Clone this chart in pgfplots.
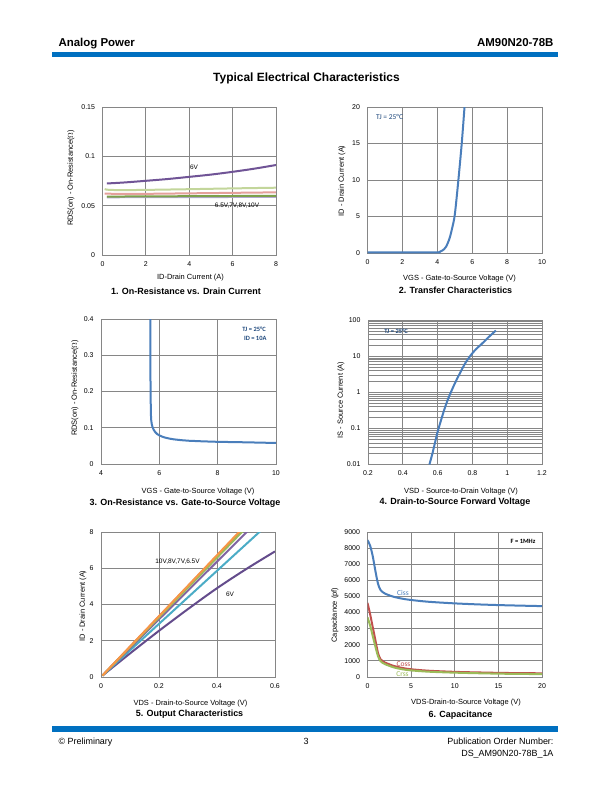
\documentclass[border=0pt]{standalone}
\usepackage{fontspec}
\setmainfont{Liberation Sans}
\newfontfamily\calib{Carlito}
\usepackage{pgfplots}
\pgfplotsset{compat=1.18}
\newcommand\fs[1]{\fontsize{#1}{#1}\selectfont}
\definecolor{gridgray}{RGB}{134,134,134}
\definecolor{hdrblue}{RGB}{0,112,192}
\definecolor{cblue}{RGB}{74,126,187}
\definecolor{navy}{RGB}{31,73,125}
\definecolor{ppurple}{RGB}{112,84,150}
\definecolor{plgreen}{RGB}{195,214,155}
\definecolor{ppink}{RGB}{228,160,155}
\definecolor{pgreen}{RGB}{125,160,75}
\definecolor{plav}{RGB}{178,168,210}
\definecolor{porange}{RGB}{247,150,70}
\definecolor{pgreen2}{RGB}{155,187,89}
\definecolor{ppurple2}{RGB}{128,100,162}
\definecolor{pcyan}{RGB}{75,172,198}
\definecolor{pdpurple}{RGB}{100,76,140}
\definecolor{cred}{RGB}{192,80,77}
\pgfplotsset{ds/.style={scale only axis,
  axis line style={draw=gridgray,line width=0.9bp},
  grid=major, major grid style={draw=gridgray,line width=0.9bp},
  major tick length=0pt, minor tick length=0pt,
  tick label style={font=\fs{7}},
  xticklabel style={yshift=-3bp},
  yticklabel style={xshift=-4bp},
  every axis plot/.append style={line width=2bp,no markers},
}}
\begin{document}
\begin{tikzpicture}
\fill[white] (0bp,0bp) rectangle (612bp,-792bp);
% header
\node[anchor=base west,font=\bfseries\fs{11.5}] at (55bp,-46.5bp) {Analog Power};
\node[anchor=base east,font=\bfseries\fs{11.5}] at (557bp,-46.5bp) {AM90N20-78B};
\fill[hdrblue] (52bp,-52bp) rectangle (558bp,-57bp);
\node[anchor=base,font=\bfseries\fs{12}] at (306.5bp,-81bp) {Typical Electrical Characteristics};
% footer
\fill[hdrblue] (52bp,-726bp) rectangle (558bp,-731.5bp);
\node[anchor=base west,font=\fs{9}] at (55bp,-744bp) {\textcopyright{} Preliminary};
\node[anchor=base,font=\fs{9}] at (306bp,-744bp) {3};
\node[anchor=base east,font=\fs{9}] at (557bp,-744bp) {Publication Order Number:};
\node[anchor=base east,font=\fs{9}] at (557bp,-756bp) {DS\_AM90N20-78B\_1A};

% ---------- Plot 1
\begin{axis}[ds, at={(102.5bp,-255bp)}, anchor=south west, width=173.5bp, height=148bp,
  xmin=0,xmax=8,ymin=0,ymax=0.15, xtick={0,2,4,6,8}, xticklabels={0,2,4,6,8},
  ytick={0,0.05,0.1,0.15}, yticklabels={0,0.05,0.1,0.15}]
\addplot[plav,smooth] coordinates {(0.2,0.0585)(2,0.0586)(4,0.0587)(6,0.0588)(8,0.0590)};
\addplot[pgreen,smooth] coordinates {(0.2,0.0592)(2,0.0594)(4,0.0596)(6,0.0598)(8,0.0600)};
\addplot[ppink,smooth] coordinates {(0.1,0.0622)(1,0.0619)(2,0.0620)(4,0.0625)(6,0.0630)(8,0.0635)};
\addplot[plgreen,smooth] coordinates {(0.1,0.0668)(0.3,0.0660)(1,0.0658)(2,0.0660)(4,0.0667)(6,0.0675)(8,0.0682)};
\addplot[ppurple,smooth] coordinates {(0.2,0.0725)(1,0.0735)(2,0.0752)(3,0.0770)(4,0.0792)(5,0.0815)(6,0.0843)(7,0.0875)(8,0.0912)};
\end{axis}
\node[font=\fs{6.5}] at (194bp,-167.5bp) {6V};
\node[font=\fs{6.5}] at (237bp,-206bp) {6.5V,7V,8V,10V};
\node[font=\fs{7.5}] at (190.5bp,-278bp) {ID-Drain Current (A)};
\node[font=\bfseries\fs{9}] at (186bp,-291.5bp) {1. On-Resistance vs. Drain Current};
\node[font=\fs{7.5},rotate=90] at (71bp,-178bp) {RDS(on) - On-Resistance($\Omega$)};

% ---------- Plot 2
\begin{axis}[ds, at={(367.5bp,-253bp)}, anchor=south west, width=174.5bp, height=146bp,
  xmin=0,xmax=10,ymin=0,ymax=20, xtick={0,2,4,6,8,10}, xticklabels={0,2,4,6,8,10},
  ytick={0,5,10,15,20}, yticklabels={0,5,10,15,20}]
\addplot[cblue,smooth] coordinates {(0,0.08)(3.9,0.08)(4.1,0.12)(4.3,0.35)(4.5,0.85)(4.7,2.0)(4.85,3.4)(5.0,5.2)(5.2,9.8)(5.4,15)(5.56,20)(5.6,21.2)};
\end{axis}
\node[font=\calib\fs{7.5},text=navy] at (389.5bp,-116.5bp) {TJ = 25°C};
\node[font=\fs{7.5}] at (459.5bp,-279bp) {VGS - Gate-to-Source Voltage (V)};
\node[font=\bfseries\fs{9}] at (455.5bp,-290.5bp) {2. Transfer Characteristics};
\node[font=\fs{7.5},rotate=90] at (342bp,-181bp) {ID - Drain Current (A)};

% ---------- Plot 3
\begin{axis}[ds, at={(101bp,-464bp)}, anchor=south west, width=175bp, height=145bp,
  xmin=4,xmax=10,ymin=0,ymax=0.4, xtick={4,6,8,10}, xticklabels={4,6,8,10},
  ytick={0,0.1,0.2,0.3,0.4}, yticklabels={0,0.1,0.2,0.3,0.4}]
\addplot[cblue] coordinates {(5.69,0.42)(5.69,0.30)(5.70,0.20)(5.71,0.14)(5.72,0.122)(5.74,0.110)(5.77,0.101)(5.81,0.094)(5.86,0.088)(5.92,0.083)(6.0,0.079)(6.1,0.0755)(6.2,0.0728)(6.35,0.0700)(6.5,0.0680)(6.75,0.0658)(7.0,0.0642)(7.5,0.0625)(8.0,0.0612)(9.0,0.0598)(10,0.0580)};
\end{axis}
\node[font=\calib\bfseries\fs{6.5},text=navy] at (254bp,-329bp) {TJ = 25°C};
\node[font=\calib\bfseries\fs{6.5},text=navy,anchor=west] at (240.5bp,-338.5bp) {ID = 10A};
\node[font=\fs{7.5}] at (198bp,-491.5bp) {VGS - Gate-to-Source Voltage (V)};
\node[font=\bfseries\fs{9}] at (185bp,-503.5bp) {3. On-Resistance vs. Gate-to-Source Voltage};
\node[font=\fs{7.5},rotate=90] at (75bp,-388bp) {RDS(on) - On-Resistance($\Omega$)};

% ---------- Plot 4
\begin{axis}[ds, at={(368bp,-464.5bp)}, anchor=south west, width=174bp, height=144.5bp,
  ymode=log, xmin=0.2,xmax=1.2,ymin=0.01,ymax=100,
  xtick={0.2,0.4,0.6,0.8,1,1.2}, xticklabels={0.2,0.4,0.6,0.8,1,1.2},
  ytick={0.01,0.1,1,10,100}, yticklabels={0.01,0.1,1,10,100},
  minor ytick={0.02,0.03,0.04,0.05,0.06,0.07,0.08,0.09,0.2,0.3,0.4,0.5,0.6,0.7,0.8,0.9,2,3,4,5,6,7,8,9,20,30,40,50,60,70,80,90},
  yminorgrids=true, minor grid style={draw=gridgray,line width=0.5bp}]
\addplot[cblue,smooth] coordinates {(0.553,0.01)(0.57,0.02)(0.585,0.04)(0.6,0.08)(0.62,0.17)(0.64,0.35)(0.66,0.65)(0.68,1.1)(0.70,1.8)(0.73,3.5)(0.76,6.5)(0.79,10.5)(0.82,15.5)(0.85,21)(0.88,29)(0.91,40)(0.935,51)};
\end{axis}
\node[font=\calib\bfseries\fs{6.5},text=navy] at (396bp,-331.5bp) {TJ = 25°C};
\node[font=\fs{7.5}] at (461bp,-492bp) {VSD - Source-to-Drain Voltage (V)};
\node[font=\bfseries\fs{9}] at (455bp,-502.5bp) {4. Drain-to-Source Forward Voltage};
\node[font=\fs{7.5},rotate=90] at (341bp,-400bp) {IS - Source Current (A)};

% ---------- Plot 5
\begin{axis}[ds, at={(101bp,-677bp)}, anchor=south west, width=174bp, height=145bp,
  xmin=0,xmax=0.6,ymin=0,ymax=8, xtick={0,0.2,0.4,0.6}, xticklabels={0,0.2,0.4,0.6},
  ytick={0,2,4,6,8}, yticklabels={0,2,4,6,8}]
\addplot[pdpurple,smooth] coordinates {(0.005,0.08)(0.1,1.3)(0.2,2.55)(0.3,3.75)(0.4,4.9)(0.5,5.95)(0.6,6.93)};
\addplot[pcyan] coordinates {(0.005,0.08)(0.553,8.1)};
\addplot[ppurple2] coordinates {(0.005,0.08)(0.509,8.1)};
\addplot[cred] coordinates {(0.005,0.08)(0.485,8.1)};
\addplot[pgreen2] coordinates {(0.005,0.08)(0.492,8.1)};
\addplot[porange] coordinates {(0.005,0.08)(0.482,8.1)};
\end{axis}
\node[font=\fs{6.5}] at (177.5bp,-561.5bp) {10V,8V,7V,6.5V};
\node[font=\fs{6.5}] at (230bp,-594.5bp) {6V};
\node[font=\fs{7.5}] at (190.5bp,-703.5bp) {VDS - Drain-to-Source Voltage (V)};
\node[font=\bfseries\fs{9}] at (189.5bp,-714bp) {5. Output Characteristics};
\node[font=\fs{7.5},rotate=90] at (83bp,-606bp) {ID - Drain Current (A)};

% ---------- Plot 6
\begin{axis}[ds, at={(367.5bp,-677bp)}, anchor=south west, width=174.5bp, height=145bp,
  xmin=0,xmax=20,ymin=0,ymax=9000, xtick={0,5,10,15,20}, xticklabels={0,5,10,15,20},
  ytick={0,1000,2000,3000,4000,5000,6000,7000,8000,9000},
  yticklabels={0,1000,2000,3000,4000,5000,6000,7000,8000,9000}]
\addplot[cblue,smooth] coordinates {(0,8500)(0.3,8150)(0.6,7500)(0.9,6600)(1.2,5800)(1.5,5400)(2,5180)(3,4980)(4,4860)(5,4780)(7,4670)(10,4570)(13,4500)(16,4450)(20,4400)};
\addplot[cred,smooth] coordinates {(0,4600)(0.3,3900)(0.6,3100)(0.9,2300)(1.2,1500)(1.5,1100)(2,900)(3,690)(4,560)(5,480)(7,390)(10,320)(13,280)(16,250)(20,230)};
\addplot[pgreen2,smooth] coordinates {(0,3700)(0.3,3200)(0.6,2550)(0.9,1900)(1.2,1300)(1.5,980)(2,800)(3,600)(4,480)(5,410)(7,330)(10,270)(13,230)(16,200)(20,180)};
\end{axis}
\node[font=\calib\fs{7.5},text=cblue] at (403bp,-592.5bp) {Ciss};
\node[font=\calib\fs{7.5},text=cred] at (403.5bp,-664bp) {Coss};
\node[font=\calib\fs{7.5},text=pgreen2] at (402.5bp,-674.5bp) {Crss};
\node[font=\calib\bfseries\fs{6.5}] at (523bp,-541bp) {F = 1MHz};
\node[font=\fs{7.5}] at (466bp,-703bp) {VDS-Drain-to-Source Voltage (V)};
\node[font=\bfseries\fs{9}] at (460.5bp,-715bp) {6. Capacitance};
\node[font=\fs{7.5},rotate=90] at (335bp,-615bp) {Capacitance (pf)};
\end{tikzpicture}
\end{document}
